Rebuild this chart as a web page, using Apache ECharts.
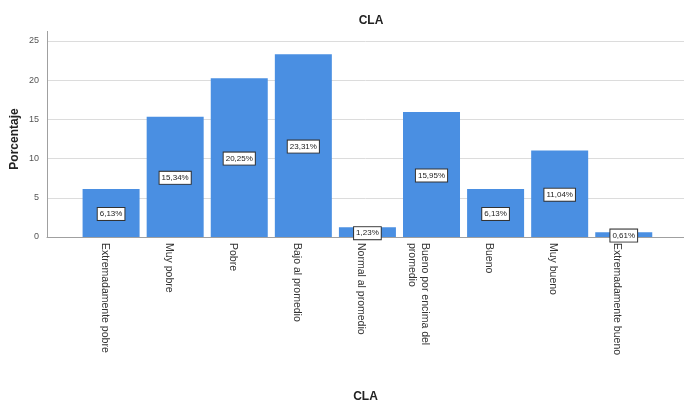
<!DOCTYPE html>
<html>
<head>
<meta charset="utf-8">
<script src="https://cdn.jsdelivr.net/npm/echarts@6/dist/echarts.min.js"></script>
<style>
  html, body { margin: 0; padding: 0; background: #fff; }
  #chart { width: 684px; height: 400px; }
</style>
</head>
<body>
<div id="chart"></div>
<script>
// Categories of the CLA scale and their percentages
const categories = [
  'Extremadamente pobre',
  'Muy pobre',
  'Pobre',
  'Bajo al promedio',
  'Normal al promedio',
  'Bueno por encima del\npromedio',
  'Bueno',
  'Muy bueno',
  'Extremadamente bueno'
];
const percentages = [6.13, 15.34, 20.25, 23.31, 1.23, 15.95, 6.13, 11.04, 0.61];
const yTicks = [0, 5, 10, 15, 20, 25];

const FONT = '"Liberation Sans", Arial, sans-serif';
const chart = echarts.init(document.getElementById('chart'), null, { renderer: 'canvas' });

// Bars are placed on a numeric x scale (category index) so the axis can run
// past the first and last category, as the plot frame does.
const barData = percentages.map((v, i) => [i, v]);

chart.setOption({
  animation: false,
  backgroundColor: '#ffffff',
  title: {
    text: 'CLA',
    left: 366, top: 10,
    textAlign: 'center',
    textStyle: { fontFamily: FONT, fontSize: 12, fontWeight: 'bold', color: '#222' }
  },
  grid: { left: 47, right: 0, top: 41, bottom: 163, outerBoundsMode: 'none', containLabel: false },
  xAxis: {
    type: 'value',
    min: -1, max: 8.94, interval: 1,
    name: 'CLA',
    nameLocation: 'middle',
    nameGap: 154,
    nameMoveOverlap: false,
    nameTextStyle: { fontFamily: FONT, fontSize: 12, fontWeight: 'bold', color: '#222' },
    axisLine: { show: true, onZero: false, lineStyle: { color: '#a0a0a0', width: 1 } },
    axisTick: { show: false },
    splitLine: { show: false },
    axisLabel: {
      rotate: -90,
      margin: 6,
      verticalAlign: 'top',
      fontFamily: FONT, fontSize: 10.5, color: '#333',
      lineHeight: 13,
      formatter: v => (Number.isInteger(v) && v >= 0 && v < categories.length) ? categories[v] : ''
    }
  },
  yAxis: {
    type: 'value',
    min: 0, max: 25, interval: 5,
    name: 'Porcentaje',
    nameLocation: 'middle',
    nameGap: 26,
    nameRotate: 90,
    nameMoveOverlap: false,
    nameTextStyle: { fontFamily: FONT, fontSize: 12, fontWeight: 'bold', color: '#222' },
    axisLine: { show: true, onZero: false, lineStyle: { color: '#a0a0a0', width: 1 } },
    axisTick: { show: false },
    axisLabel: {
      fontFamily: FONT, fontSize: 9, color: '#555', margin: 8,
      formatter: v => yTicks.includes(v) ? String(v) : ''
    },
    splitLine: { show: true, lineStyle: { color: '#dcdcdc', width: 1 } }
  },
  series: [{
    type: 'bar',
    data: barData,
    barWidth: 57,
    itemStyle: { color: '#4a8fe2' },
    label: {
      show: true,
      position: 'inside',
      offset: [0, 1],
      formatter: p => p.value[1].toFixed(2).replace('.', ',') + '%',
      fontFamily: FONT, fontSize: 8, color: '#222',
      backgroundColor: '#ffffff',
      borderColor: '#333',
      borderWidth: 1,
      padding: [2, 2, 2, 2]
    }
  }],
  // short extension of the vertical axis line above the top gridline
  graphic: [{
    type: 'line',
    shape: { x1: 47.5, y1: 31, x2: 47.5, y2: 41 },
    style: { stroke: '#a0a0a0', lineWidth: 1 }
  }]
});
</script>
</body>
</html>
